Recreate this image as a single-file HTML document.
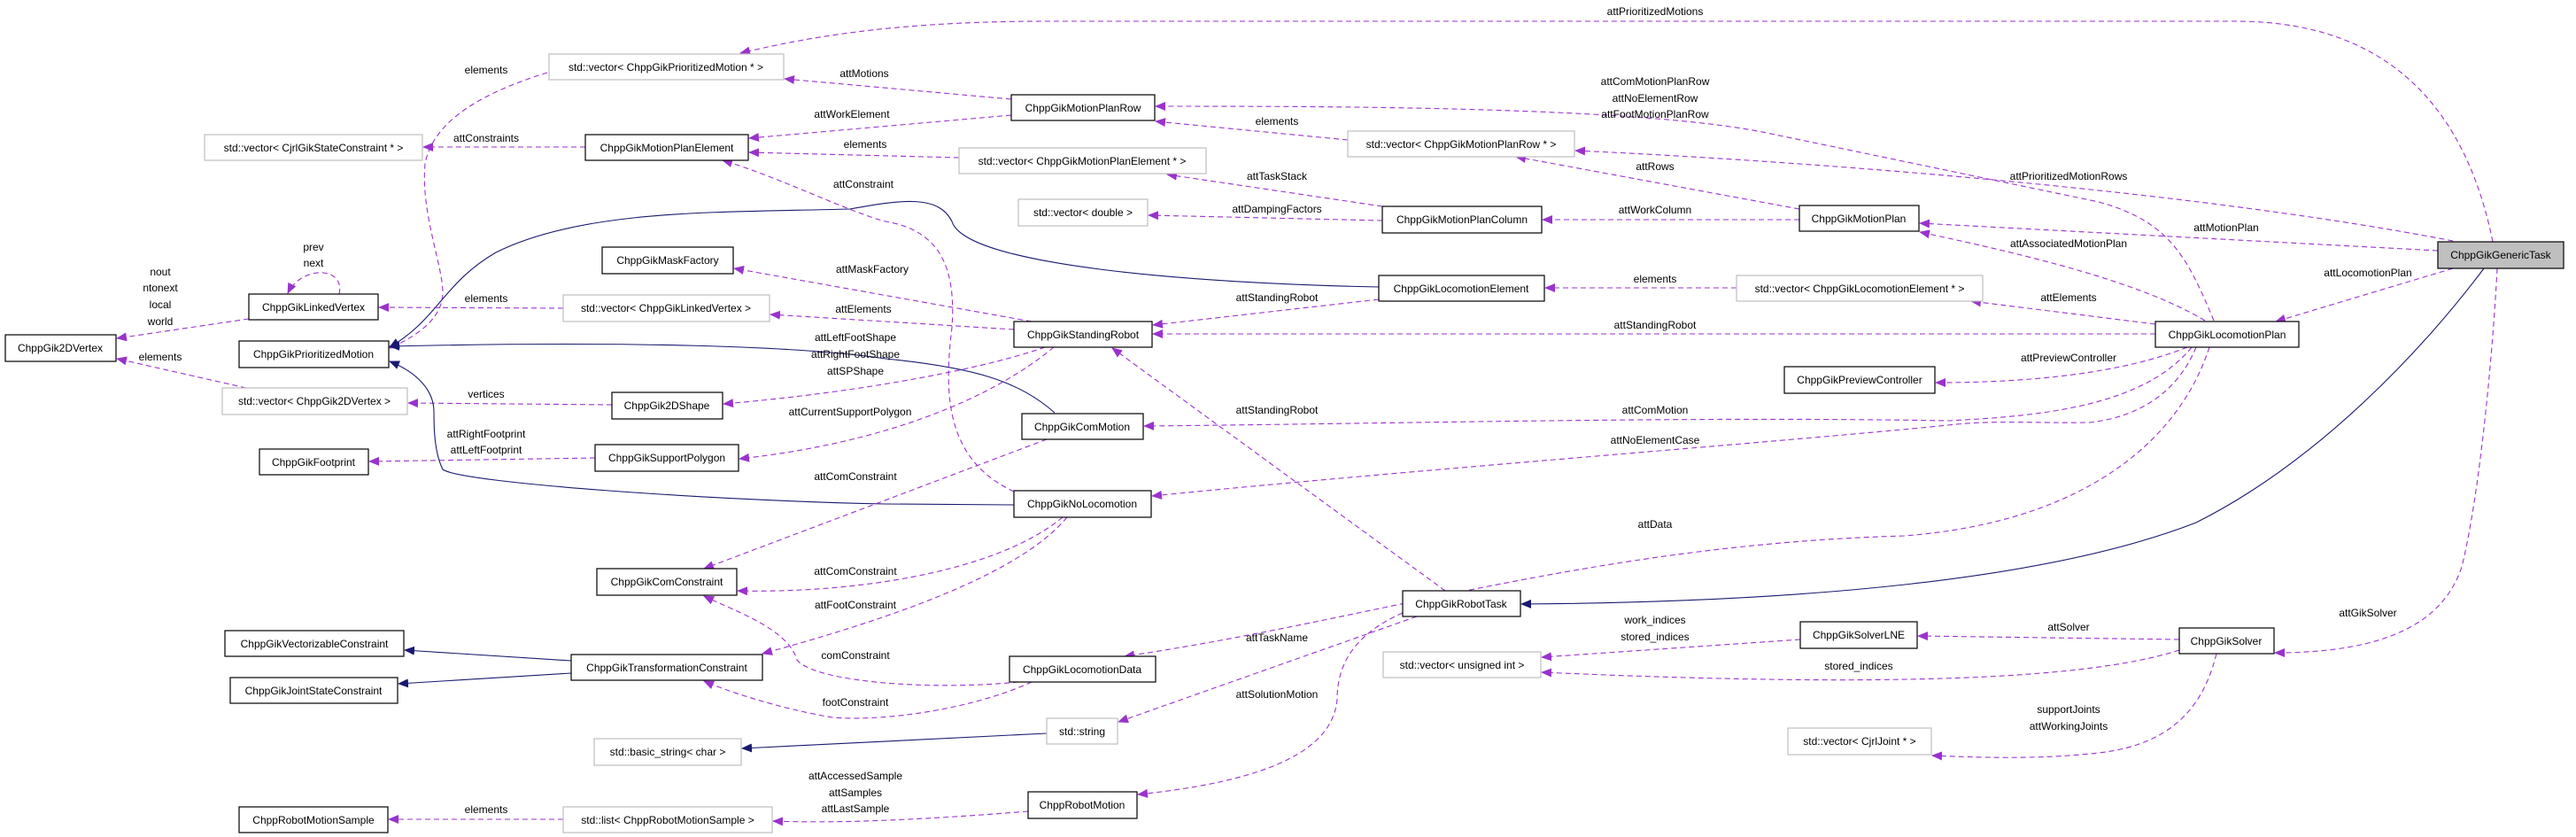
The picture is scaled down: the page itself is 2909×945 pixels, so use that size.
<!DOCTYPE html>
<html><head><meta charset="utf-8"><style>
html,body{margin:0;padding:0;background:#fff;}
svg{display:block;}
text{font-family:"Liberation Sans",sans-serif;font-size:12px;fill:#000;}
.n rect{fill:#fff;stroke:#000;stroke-width:1.2;}
.g rect{fill:#fff;stroke:#bfbfbf;stroke-width:1.2;}
.p{fill:none;stroke:#9a32cd;stroke-width:1.1;stroke-dasharray:6,4;marker-end:url(#ap);}
.b{fill:none;stroke:#191970;stroke-width:1.1;marker-end:url(#ab);}
</style></head><body>
<svg width="2909" height="945" viewBox="0 0 2909 945" xmlns="http://www.w3.org/2000/svg">
<defs>
<marker id="ap" markerWidth="12" markerHeight="10" refX="11" refY="5" orient="auto" markerUnits="userSpaceOnUse"><path d="M0,0 L12,5 L0,10 z" fill="#9a32cd"/></marker>
<marker id="ab" markerWidth="12" markerHeight="10" refX="11" refY="5" orient="auto" markerUnits="userSpaceOnUse"><path d="M0,0 L12,5 L0,10 z" fill="#191970"/></marker>
</defs>

<!-- edges -->
<path class="p" d="M2815,273 C2790,150 2720,24 2525,24 L1180,24 C1000,24 900,45 836,60"/>
<path class="p" d="M1142,112 L886,89"/>
<path class="p" d="M1142,130 L846,156"/>
<path class="p" d="M1083,178 L846,172"/>
<path class="p" d="M661,166 L478,166"/>
<path class="p" d="M618,82 C560,100 490,130 480,185 C475,240 500,300 500,330 C500,360 470,380 440,393"/>
<path class="b" d="M1557,324 C1350,320 1090,300 1075,250 C1060,220 1020,225 960,236 C820,240 660,235 560,285 C500,320 495,360 440,392"/>
<path class="p" d="M2500,362 C2470,290 2450,250 2370,228 L1995,150 C1850,120 1500,120 1305,120"/>
<path class="p" d="M1522,158 L1305,137"/>
<path class="p" d="M2770,272 C2500,220 2100,185 1779,170"/>
<path class="p" d="M2032,236 L1712,177"/>
<path class="p" d="M1561,233 L1318,197"/>
<path class="p" d="M1561,249 L1297,243"/>
<path class="p" d="M2032,248 L1742,248"/>
<path class="p" d="M2753,283 L2168,252"/>
<path class="p" d="M2490,362 C2420,320 2300,290 2168,262"/>
<path class="p" d="M2770,303 L2570,363"/>
<path class="p" d="M2434,366 L2226,340"/>
<path class="p" d="M1961,325 L1745,325"/>
<path class="p" d="M1557,338 L1302,367"/>
<path class="p" d="M2434,377 L1302,377"/>
<path class="p" d="M1165,363 L829,303"/>
<path class="p" d="M1145,372 L870,355"/>
<path class="p" d="M636,348 L428,347"/>
<path class="p" d="M383,332 C390,300 340,300 325,331"/>
<path class="p" d="M281,360 L132,382"/>
<path class="p" d="M278,438 L132,405"/>
<path class="b" d="M1191,466 C1150,430 1100,415 1000,405 C900,390 700,385 440,391"/>
<path class="p" d="M1180,392 C1100,420 950,445 817,456"/>
<path class="p" d="M1190,392 C1120,450 1000,500 835,518"/>
<path class="p" d="M691,457 L461,455"/>
<path class="p" d="M672,517 L417,521"/>
<path class="b" d="M1145,570 L1000,569 C800,565 520,545 500,530 C490,510 490,480 490,465 C490,440 470,420 440,408"/>
<path class="b" d="M2805,303 C2740,390 2620,520 2480,590 C2300,660 2000,680 1718,682"/>
<path class="p" d="M2470,392 C2400,420 2300,432 2186,432"/>
<path class="p" d="M2475,392 C2420,460 2300,470 2200,475 C1900,470 1600,478 1292,481"/>
<path class="p" d="M2480,392 C2460,440 2420,470 2360,477 C2300,478 2250,474 2200,480 C2000,500 1600,530 1301,560"/>
<path class="p" d="M2495,392 C2460,500 2350,590 2150,605 C1800,615 1550,700 1270,741"/>
<path class="p" d="M1632,667 L1256,393"/>
<path class="p" d="M1182,496 L795,642"/>
<path class="p" d="M1200,584 C1120,650 950,670 833,667"/>
<path class="p" d="M1205,584 C1150,650 1000,700 861,738"/>
<path class="p" d="M1150,770 C1050,780 920,770 900,745 C890,710 830,690 795,673"/>
<path class="p" d="M1165,770 C1100,800 1000,815 940,810 C880,800 820,780 795,769"/>
<path class="p" d="M1145,555 C1070,520 1065,450 1075,370 C1080,300 1060,260 1000,250 C960,240 880,200 816,181"/>
<path class="b" d="M645,746 L457,734"/>
<path class="b" d="M645,760 L450,772"/>
<path class="p" d="M1600,696 L1263,815"/>
<path class="p" d="M1584,692 C1520,720 1510,760 1510,790 C1505,840 1450,880 1285,897"/>
<path class="b" d="M1182,828 L838,845"/>
<path class="p" d="M1161,916 C1050,925 950,930 873,927"/>
<path class="p" d="M636,925 L439,925"/>
<path class="p" d="M2033,722 L1741,742"/>
<path class="p" d="M2461,734 C2350,770 2100,775 1741,759"/>
<path class="p" d="M2461,722 L2166,718"/>
<path class="p" d="M2820,303 C2815,400 2800,560 2780,640 C2760,700 2700,737 2569,737"/>
<path class="p" d="M2503,738 C2490,790 2460,840 2370,850 C2300,858 2230,855 2182,853"/>

<!-- edge labels -->
<g text-anchor="middle">
<text x="1869" y="17">attPrioritizedMotions</text>
<text x="976" y="87">attMotions</text>
<text x="962" y="133">attWorkElement</text>
<text x="977" y="167">elements</text>
<text x="549" y="160">attConstraints</text>
<text x="549" y="83">elements</text>
<text x="1869" y="96">attComMotionPlanRow</text>
<text x="1869" y="115">attNoElementRow</text>
<text x="1869" y="133">attFootMotionPlanRow</text>
<text x="1442" y="141">elements</text>
<text x="2336" y="203">attPrioritizedMotionRows</text>
<text x="1869" y="192">attRows</text>
<text x="1442" y="203">attTaskStack</text>
<text x="1442" y="240">attDampingFactors</text>
<text x="1869" y="241">attWorkColumn</text>
<text x="2514" y="261">attMotionPlan</text>
<text x="2336" y="279">attAssociatedMotionPlan</text>
<text x="2674" y="312">attLocomotionPlan</text>
<text x="2336" y="340">attElements</text>
<text x="1869" y="319">elements</text>
<text x="1442" y="340">attStandingRobot</text>
<text x="1869" y="371">attStandingRobot</text>
<text x="985" y="308">attMaskFactory</text>
<text x="975" y="353">attElements</text>
<text x="549" y="341">elements</text>
<text x="354" y="283">prev</text>
<text x="354" y="301">next</text>
<text x="181" y="311">nout</text>
<text x="181" y="329">ntonext</text>
<text x="181" y="348">local</text>
<text x="181" y="367">world</text>
<text x="181" y="407">elements</text>
<text x="966" y="385">attLeftFootShape</text>
<text x="966" y="404">attRightFootShape</text>
<text x="966" y="423">attSPShape</text>
<text x="960" y="469">attCurrentSupportPolygon</text>
<text x="549" y="449">vertices</text>
<text x="549" y="494">attRightFootprint</text>
<text x="549" y="512">attLeftFootprint</text>
<text x="2336" y="408">attPreviewController</text>
<text x="1869" y="467">attComMotion</text>
<text x="1869" y="501">attNoElementCase</text>
<text x="1869" y="596">attData</text>
<text x="1442" y="467">attStandingRobot</text>
<text x="966" y="542">attComConstraint</text>
<text x="966" y="649">attComConstraint</text>
<text x="966" y="687">attFootConstraint</text>
<text x="966" y="744">comConstraint</text>
<text x="966" y="797">footConstraint</text>
<text x="975" y="212">attConstraint</text>
<text x="1442" y="724">attTaskName</text>
<text x="1442" y="788">attSolutionMotion</text>
<text x="966" y="880">attAccessedSample</text>
<text x="966" y="899">attSamples</text>
<text x="966" y="917">attLastSample</text>
<text x="549" y="918">elements</text>
<text x="1869" y="704">work_indices</text>
<text x="1869" y="723">stored_indices</text>
<text x="2099" y="756">stored_indices</text>
<text x="2336" y="712">attSolver</text>
<text x="2674" y="696">attGikSolver</text>
<text x="2336" y="805">supportJoints</text>
<text x="2336" y="824">attWorkingJoints</text>
</g>

<!-- nodes -->
<g text-anchor="middle">
<g class="g"><rect x="620" y="61" width="265" height="29"/><text x="752" y="80">std::vector&lt; ChppGikPrioritizedMotion * &gt;</text></g>
<g class="g"><rect x="231" y="152" width="246" height="29"/><text x="354" y="171">std::vector&lt; CjrlGikStateConstraint * &gt;</text></g>
<g class="n"><rect x="661" y="152" width="184" height="29"/><text x="753" y="171">ChppGikMotionPlanElement</text></g>
<g class="n"><rect x="680" y="279" width="148" height="30"/><text x="754" y="298">ChppGikMaskFactory</text></g>
<g class="n"><rect x="281" y="332" width="146" height="29"/><text x="354" y="351">ChppGikLinkedVertex</text></g>
<g class="g"><rect x="636" y="333" width="233" height="30"/><text x="752" y="352">std::vector&lt; ChppGikLinkedVertex &gt;</text></g>
<g class="n"><rect x="6" y="378" width="125" height="30"/><text x="68" y="397">ChppGik2DVertex</text></g>
<g class="n"><rect x="270" y="385" width="169" height="30"/><text x="354" y="404">ChppGikPrioritizedMotion</text></g>
<g class="g"><rect x="251" y="438" width="209" height="30"/><text x="355" y="457">std::vector&lt; ChppGik2DVertex &gt;</text></g>
<g class="n"><rect x="691" y="443" width="125" height="30"/><text x="753" y="462">ChppGik2DShape</text></g>
<g class="n"><rect x="1142" y="107" width="162" height="29"/><text x="1223" y="126">ChppGikMotionPlanRow</text></g>
<g class="g"><rect x="1522" y="148" width="256" height="29"/><text x="1650" y="167">std::vector&lt; ChppGikMotionPlanRow * &gt;</text></g>
<g class="g"><rect x="1083" y="167" width="279" height="29"/><text x="1222" y="186">std::vector&lt; ChppGikMotionPlanElement * &gt;</text></g>
<g class="g"><rect x="1150" y="225" width="146" height="30"/><text x="1223" y="244">std::vector&lt; double &gt;</text></g>
<g class="n"><rect x="1561" y="233" width="180" height="30"/><text x="1651" y="252">ChppGikMotionPlanColumn</text></g>
<g class="n"><rect x="1557" y="311" width="187" height="29"/><text x="1650" y="330">ChppGikLocomotionElement</text></g>
<g class="n"><rect x="1145" y="363" width="156" height="29"/><text x="1223" y="382">ChppGikStandingRobot</text></g>
<g class="n"><rect x="2032" y="232" width="135" height="29"/><text x="2099" y="251">ChppGikMotionPlan</text></g>
<g class="n"><rect x="2753" y="273" width="142" height="30" style="fill:#bfbfbf"/><text x="2824" y="292">ChppGikGenericTask</text></g>
<g class="g"><rect x="1961" y="311" width="278" height="29"/><text x="2100" y="330">std::vector&lt; ChppGikLocomotionElement * &gt;</text></g>
<g class="n"><rect x="2434" y="363" width="162" height="29"/><text x="2515" y="382">ChppGikLocomotionPlan</text></g>
<g class="n"><rect x="2015" y="414" width="170" height="30"/><text x="2100" y="433">ChppGikPreviewController</text></g>
<g class="n"><rect x="293" y="507" width="123" height="29"/><text x="354" y="526">ChppGikFootprint</text></g>
<g class="n"><rect x="672" y="502" width="162" height="30"/><text x="753" y="521">ChppGikSupportPolygon</text></g>
<g class="n"><rect x="674" y="642" width="158" height="30"/><text x="753" y="661">ChppGikComConstraint</text></g>
<g class="n"><rect x="254" y="712" width="202" height="29"/><text x="355" y="731">ChppGikVectorizableConstraint</text></g>
<g class="n"><rect x="260" y="765" width="189" height="29"/><text x="354" y="784">ChppGikJointStateConstraint</text></g>
<g class="n"><rect x="645" y="739" width="216" height="29"/><text x="753" y="758">ChppGikTransformationConstraint</text></g>
<g class="g"><rect x="671" y="834" width="166" height="30"/><text x="754" y="853">std::basic_string&lt; char &gt;</text></g>
<g class="n"><rect x="270" y="911" width="168" height="29"/><text x="354" y="930">ChppRobotMotionSample</text></g>
<g class="g"><rect x="636" y="911" width="236" height="29"/><text x="754" y="930">std::list&lt; ChppRobotMotionSample &gt;</text></g>
<g class="n"><rect x="1154" y="467" width="137" height="29"/><text x="1222" y="486">ChppGikComMotion</text></g>
<g class="n"><rect x="1145" y="554" width="155" height="30"/><text x="1222" y="573">ChppGikNoLocomotion</text></g>
<g class="n"><rect x="1584" y="667" width="133" height="29"/><text x="1650" y="686">ChppGikRobotTask</text></g>
<g class="g"><rect x="1562" y="736" width="178" height="29"/><text x="1651" y="755">std::vector&lt; unsigned int &gt;</text></g>
<g class="n"><rect x="1140" y="741" width="165" height="29"/><text x="1222" y="760">ChppGikLocomotionData</text></g>
<g class="g"><rect x="1182" y="811" width="80" height="29"/><text x="1222" y="830">std::string</text></g>
<g class="n"><rect x="1161" y="894" width="123" height="30"/><text x="1222" y="913">ChppRobotMotion</text></g>
<g class="n"><rect x="2033" y="702" width="132" height="30"/><text x="2099" y="721">ChppGikSolverLNE</text></g>
<g class="n"><rect x="2461" y="709" width="107" height="29"/><text x="2514" y="728">ChppGikSolver</text></g>
<g class="g"><rect x="2019" y="822" width="162" height="30"/><text x="2100" y="841">std::vector&lt; CjrlJoint * &gt;</text></g>
</g>
</svg>
</body></html>
